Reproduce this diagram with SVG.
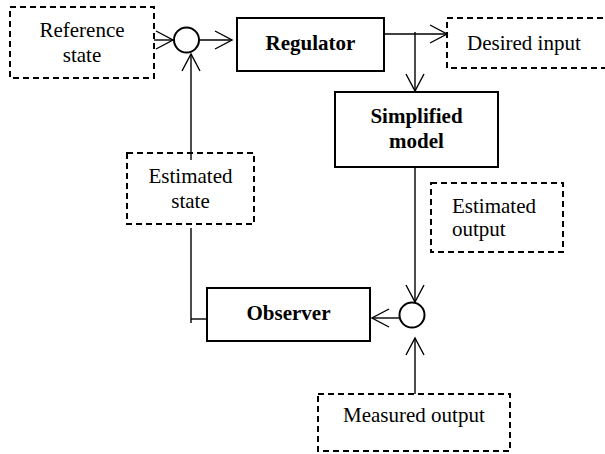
<svg xmlns="http://www.w3.org/2000/svg" width="605" height="454" viewBox="0 0 605 454">
<style>
.t{font-family:"Liberation Serif","Times New Roman",serif;font-size:21px;fill:#000}
.b{font-weight:bold}
.solid{fill:#fff;stroke:#000;stroke-width:2}
.dash{fill:none;stroke:#000;stroke-width:2;stroke-dasharray:6,4}
.ln{fill:none;stroke:#000;stroke-width:1.4}
.cir{fill:#fff;stroke:#000;stroke-width:2}
</style>
<defs>
<marker id="arr" markerUnits="userSpaceOnUse" viewBox="-20 -12 22 24" refX="0" refY="0" markerWidth="22" markerHeight="24" orient="auto">
<path d="M-17,-9 L0,0 L-17,9" fill="none" stroke="#000" stroke-width="1.4"/>
</marker>
</defs>
<rect width="605" height="454" fill="#fff"/>
<g id="connectors">
<line class="ln" x1="154" y1="40" x2="173" y2="40" marker-end="url(#arr)"/>
<line class="ln" x1="199" y1="40" x2="232" y2="40" marker-end="url(#arr)"/>
<line class="ln" x1="382" y1="34" x2="447" y2="34" marker-end="url(#arr)"/>
<line class="ln" x1="415" y1="32" x2="415" y2="91" marker-end="url(#arr)"/>
<line class="ln" x1="191" y1="160" x2="191" y2="54" marker-end="url(#arr)"/>
<polyline class="ln" points="191,228 191,323"/>
<line class="ln" x1="191" y1="319" x2="207" y2="319"/>
<line class="ln" x1="415" y1="167" x2="415" y2="302" marker-end="url(#arr)"/>
<line class="ln" x1="400" y1="318" x2="372" y2="318" marker-end="url(#arr)"/>
<line class="ln" x1="415" y1="394" x2="415" y2="338" marker-end="url(#arr)"/>
</g>
<g id="reference-state">
<rect class="dash" x="10" y="7" width="144" height="71"/>
<text class="t" x="82" y="37" text-anchor="middle">Reference</text>
<text class="t" x="82" y="62" text-anchor="middle">state</text>
</g>
<g id="sum-top">
<circle class="cir" cx="186.5" cy="40" r="12.5"/>
</g>
<g id="regulator">
<rect class="solid" x="237" y="18" width="147" height="53"/>
<text class="t b" x="310.5" y="50" text-anchor="middle">Regulator</text>
</g>
<g id="desired-input">
<rect class="dash" x="447" y="18" width="170" height="50"/>
<text class="t" x="467" y="50">Desired input</text>
</g>
<g id="simplified-model">
<rect class="solid" x="335" y="92" width="163" height="75"/>
<text class="t b" x="416.5" y="123" text-anchor="middle">Simplified</text>
<text class="t b" x="416.5" y="148" text-anchor="middle">model</text>
</g>
<g id="estimated-output">
<rect class="dash" x="431" y="183" width="132" height="69"/>
<text class="t" x="452" y="213">Estimated</text>
<text class="t" x="452" y="236">output</text>
</g>
<g id="estimated-state">
<rect class="dash" x="127" y="153" width="127" height="71"/>
<text class="t" x="190.5" y="183" text-anchor="middle">Estimated</text>
<text class="t" x="190.5" y="208" text-anchor="middle">state</text>
</g>
<g id="observer">
<rect class="solid" x="207" y="288" width="163" height="53"/>
<text class="t b" x="288.5" y="320" text-anchor="middle">Observer</text>
</g>
<g id="sum-bottom">
<circle class="cir" cx="412" cy="315" r="12.5"/>
</g>
<g id="measured-output">
<rect class="dash" x="318" y="394" width="192" height="57"/>
<text class="t" x="343" y="422">Measured output</text>
</g>
</svg>
